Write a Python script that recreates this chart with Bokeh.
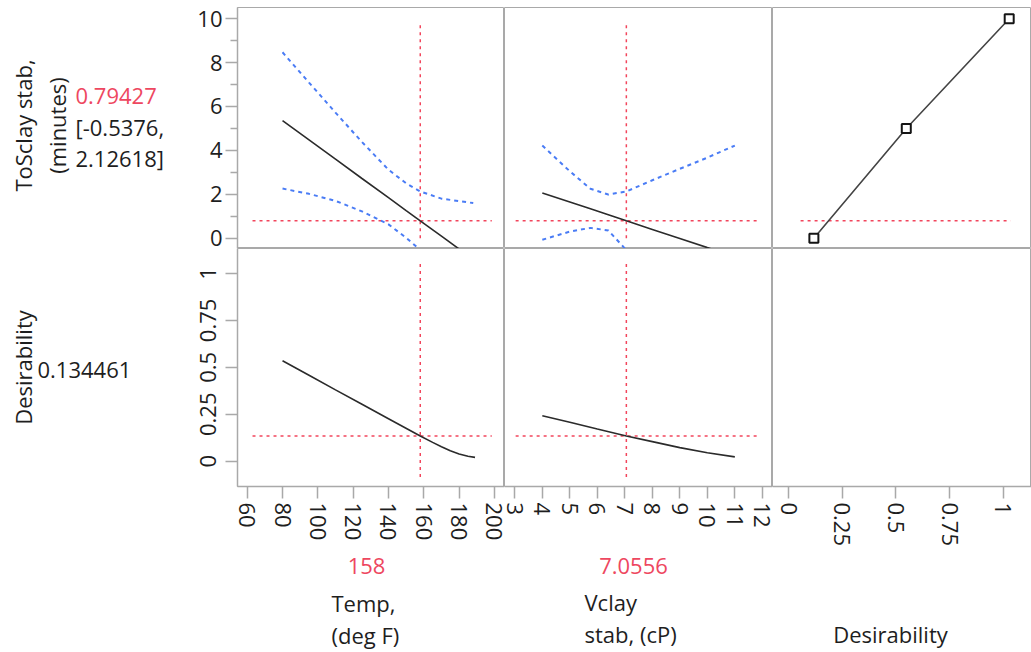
import math
from bokeh.plotting import figure
from bokeh.layouts import column, row
from bokeh.models import Range1d, FixedTicker, LinearAxis, NumeralTickFormatter
from bokeh.core.properties import value
from bokeh.embed import file_html
from bokeh.resources import INLINE

# ---------------- data ----------------
temp_grid = [80, 95, 110, 125, 140, 150, 158, 170, 188]
tosclay_temp_pred = [5.36, 4.48, 3.60, 2.72, 1.85, 1.26, 0.79, 0.09, -0.96]
tosclay_temp_upper = [8.47, 7.09, 5.72, 4.38, 3.12, 2.50, 2.13, 1.80, 1.60]
tosclay_temp_lower = [2.26, 2.02, 1.70, 1.22, 0.63, 0.02, -0.54, -1.62, -3.52]

vclay_grid = [4, 5, 5.75, 6.4, 7.0556, 8, 9, 10, 11]
tosclay_vclay_pred = [2.06, 1.65, 1.34, 1.07, 0.79, 0.40, -0.01, -0.43, -0.84]
tosclay_vclay_upper = [4.22, 3.05, 2.25, 1.99, 2.13, 2.64, 3.16, 3.67, 4.22]
tosclay_vclay_lower = [-0.07, 0.30, 0.47, 0.35, -0.54, -1.85, -3.20, -4.50, -5.90]

temp_desir_grid = [80, 95, 110, 125, 140, 158, 165, 170, 175, 180, 185, 189]
desir_temp = [0.535, 0.458, 0.38, 0.303, 0.226, 0.134, 0.10, 0.077, 0.055, 0.038, 0.026, 0.02]

vclay_desir_grid = [4, 5, 6, 7.0556, 8, 9, 10, 11]
desir_vclay = [0.242, 0.207, 0.171, 0.134, 0.104, 0.072, 0.045, 0.023]

desir_fn_d = [0.117, 0.548, 1.028]
desir_fn_y = [0, 5, 10]

temp_current = 158
vclay_current = 7.0556
tosclay_current = 0.79427
tosclay_ci = ["-0.5376", "2.12618"]
desir_current = 0.134461

temp_ticks = [60, 80, 100, 120, 140, 160, 180, 200]
vclay_ticks = [3, 4, 5, 6, 7, 8, 9, 10, 11, 12]
desir_x_ticks = [0, 0.25, 0.5, 0.75, 1]
tosclay_ticks = [0, 2, 4, 6, 8, 10]
tosclay_minor_ticks = [1, 3, 5, 7, 9]
desir_y_ticks = [0, 0.25, 0.5, 0.75, 1]

# extents of the red reference lines
vline_row1 = [0.0, 9.8]
vline_row2 = [-0.084, 1.056]
hline_temp = [63.0, 198.5]
hline_vclay = [3.03, 11.87]
hline_desir = [0.055, 1.035]

# ---------------- style ----------------
FONT = "Open Sans"
RED_LINE = "#f2455c"
RED_TEXT = "#ee4760"
BLUE = "#4a7cf5"
DARK = "#2b2b2b"
GRAY = "#a9a9a9"
TXT = "#1e1e1e"

# page geometry (pixels)
LW = 185                 # width of the left text column
X0, X1, X2, X3 = 237, 504, 772, 1031
Y0, Y1, Y2, YB, H = 7, 248, 489, 549, 652

xr_temp = (54.5, 205.7)
xr_vclay = (2.625, 12.37)
xr_desir = (-0.076, 1.132)
yr_tos = (-0.47, 10.51)
yr_des = (-0.135, 1.133)


def clean(p):
    p.xgrid.grid_line_color = None
    p.ygrid.grid_line_color = None
    p.center = [r for r in p.center if r.__class__.__name__ != "Grid"]


def make_fig(w, h, xr, yr, ml, mr, mt, mb):
    p = figure(width=w, height=h, x_range=Range1d(*xr), y_range=Range1d(*yr),
               output_backend="svg", toolbar_location=None,
               min_border_left=ml, min_border_right=mr,
               min_border_top=mt, min_border_bottom=mb,
               x_axis_location=None, y_axis_location=None)
    clean(p)
    p.outline_line_color = GRAY
    p.outline_line_width = 1
    p.background_fill_color = "white"
    p.border_fill_color = "white"
    return p


def text_fig(w, h, xr, yr):
    p = figure(width=w, height=h, x_range=Range1d(*xr), y_range=Range1d(*yr),
               output_backend="svg", toolbar_location=None,
               min_border_left=0, min_border_right=0, min_border_top=0, min_border_bottom=0,
               x_axis_location=None, y_axis_location=None)
    clean(p)
    p.outline_line_color = None
    return p


def style_axis(ax, ticks, minor=None):
    ax.ticker = FixedTicker(ticks=ticks, minor_ticks=minor or [])
    ax.axis_line_color = GRAY
    ax.axis_line_width = 1.5
    ax.major_tick_line_color = GRAY
    ax.minor_tick_line_color = GRAY
    ax.major_tick_line_width = 1.5
    ax.minor_tick_line_width = 1.5
    ax.major_tick_in = 0
    ax.major_tick_out = 12
    ax.minor_tick_in = 0
    ax.minor_tick_out = 7
    ax.major_label_text_font = FONT
    ax.major_label_text_font_size = "22px"
    ax.major_label_text_color = TXT


def red_lines(p, xcur, ycur, vext, hext):
    p.line([xcur, xcur], vext, line_color=RED_LINE, line_width=1.5, line_dash="3 4")
    p.line(hext, [ycur, ycur], line_color=RED_LINE, line_width=1.5, line_dash="3 4")


def put_text(p, x, y, text, align="left", angle=0.0, color=TXT, size="22px"):
    p.text(x=[x], y=[y], text=[text], angle=angle, text_align=align,
           text_baseline="middle", text_font=value(FONT),
           text_font_size=value(size), text_color=color)


# ---------------- row 1 : ToSclay stab ----------------
p11 = make_fig(X1 - LW, Y1, xr_temp, yr_tos, X0 - LW, 0, Y0, 0)
p12 = make_fig(X2 - X1, Y1, xr_vclay, yr_tos, 0, 0, Y0, 0)
p13 = make_fig(X3 - X2, Y1, xr_desir, yr_tos, 0, 0, Y0, 0)

ay1 = LinearAxis()
style_axis(ay1, tosclay_ticks, tosclay_minor_ticks)
ay1.major_label_standoff = 3
p11.add_layout(ay1, "left")

for p, g, pred, up, lo, xc, hx in [
        (p11, temp_grid, tosclay_temp_pred, tosclay_temp_upper, tosclay_temp_lower, temp_current, hline_temp),
        (p12, vclay_grid, tosclay_vclay_pred, tosclay_vclay_upper, tosclay_vclay_lower, vclay_current, hline_vclay)]:
    red_lines(p, xc, tosclay_current, vline_row1, hx)
    p.line(g, up, line_color=BLUE, line_width=2, line_dash="4 4")
    p.line(g, lo, line_color=BLUE, line_width=2, line_dash="4 4")
    p.line(g, pred, line_color=DARK, line_width=1.6)

p13.line(hline_desir, [tosclay_current, tosclay_current], line_color=RED_LINE,
         line_width=1.5, line_dash="3 4")
p13.line(desir_fn_d, desir_fn_y, line_color="#444444", line_width=1.6)
p13.scatter(desir_fn_d, desir_fn_y, marker="square", size=9, fill_color="white",
            line_color="#151515", line_width=2)

# ---------------- row 2 : Desirability ----------------
p21 = make_fig(X1 - LW, YB - Y1, xr_temp, yr_des, X0 - LW, 0, 0, YB - Y2)
p22 = make_fig(X2 - X1, YB - Y1, xr_vclay, yr_des, 0, 0, 0, YB - Y2)
p23 = make_fig(X3 - X2, YB - Y1, xr_desir, yr_des, 0, 0, 0, YB - Y2)

ay2 = LinearAxis()
style_axis(ay2, desir_y_ticks)
ay2.formatter = NumeralTickFormatter(format="0.[00]")
ay2.major_label_orientation = "vertical"
ay2.major_label_standoff = 9
p21.add_layout(ay2, "left")

for p, ticks in [(p21, temp_ticks), (p22, vclay_ticks), (p23, desir_x_ticks)]:
    ax = LinearAxis()
    style_axis(ax, ticks)
    ax.major_label_orientation = "vertical"
    ax.major_label_standoff = 4
    if p is p23:
        ax.formatter = NumeralTickFormatter(format="0.[00]")
    p.add_layout(ax, "below")

red_lines(p21, temp_current, desir_current, vline_row2, hline_temp)
p21.line(temp_desir_grid, desir_temp, line_color=DARK, line_width=1.6)
red_lines(p22, vclay_current, desir_current, vline_row2, hline_vclay)
p22.line(vclay_desir_grid, desir_vclay, line_color=DARK, line_width=1.6)

# ---------------- text areas (pixel coordinates of the page) ----------------
left = text_fig(LW, YB, (0, LW), (YB, 0))
put_text(left, 22, 125, "ToSclay stab,", align="center", angle=math.pi / 2)
put_text(left, 56, 125, "(minutes)", align="center", angle=math.pi / 2)
put_text(left, 75, 95, f"{tosclay_current}", color=RED_TEXT)
put_text(left, 75, 126, f"[{tosclay_ci[0]},")
put_text(left, 75, 157, f"{tosclay_ci[1]}]")
put_text(left, 22, 367, "Desirability", align="center", angle=math.pi / 2)
put_text(left, 37, 369, f"{desir_current}")

bottom = text_fig(X3, H - YB, (0, X3), (H, YB))
put_text(bottom, 366, 565, f"{temp_current}", align="center", color=RED_TEXT)
put_text(bottom, 331, 602, "Temp,")
put_text(bottom, 331, 634, "(deg F)")
put_text(bottom, 633, 565, f"{vclay_current}", align="center", color=RED_TEXT)
put_text(bottom, 584, 601, "Vclay")
put_text(bottom, 584, 633, "stab, (cP)")
put_text(bottom, 890, 633, "Desirability", align="center")

grid = column(row(p11, p12, p13), row(p21, p22, p23))
layout = column(row(left, grid), bottom)
open("out.html", "w").write(file_html(layout, INLINE))
